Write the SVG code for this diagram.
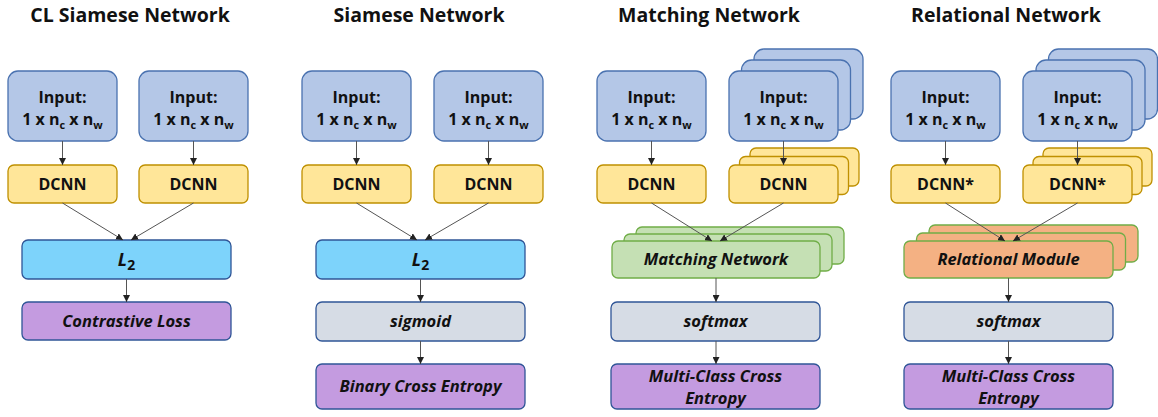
<svg xmlns="http://www.w3.org/2000/svg" width="1158" height="417" viewBox="0 0 1158 417">
<style>
text{font-family:"Open Sans","DejaVu Sans",sans-serif;font-weight:bold;fill:#111;text-anchor:middle}
.title{font-size:19.5px}
.in{fill:#b4c7e7;stroke:#4a72b0;stroke-width:1.3}
.cn{fill:#ffe699;stroke:#bf9000;stroke-width:1.3}
.l2{fill:#7dd3fb;stroke:#2f5597;stroke-width:1.3}
.pu{fill:#c49be0;stroke:#2f5597;stroke-width:1.3}
.gr{fill:#d6dce5;stroke:#2f5597;stroke-width:1.3}
.mn{fill:#c5e0b4;stroke:#70ad47;stroke-width:1.3}
.rm{fill:#f4b183;stroke:#70ad47;stroke-width:1.3}
.t16{font-size:16px}
.it{font-size:16.5px;font-style:italic}
.sub{font-size:11px}
.c{fill:none;stroke:#555;stroke-width:1;marker-end:url(#ah)}
</style>
<defs>
<marker id="ah" viewBox="0 0 10 10" refX="10" refY="5" markerWidth="7" markerHeight="7" markerUnits="userSpaceOnUse" orient="auto">
<path d="M0,0 L10,5 L0,10 z" fill="#222"/>
</marker>
</defs>

<g id="titles">
<text class="title" x="130" y="22">CL Siamese Network</text>
<text class="title" x="419" y="22">Siamese Network</text>
<text class="title" x="709" y="22">Matching Network</text>
<text class="title" x="1006" y="22">Relational Network</text>
</g>

<!-- Column 1 -->
<g id="c1-input1"><rect class="in" x="8" y="71" width="109" height="70" rx="10"/>
<text class="t16" x="62.5" y="103">Input:</text>
<text class="t16" x="62.5" y="125">1 x n<tspan class="sub" dy="4">c</tspan><tspan dy="-4"> x n</tspan><tspan class="sub" dy="4">w</tspan></text></g>
<g id="c1-input2"><rect class="in" x="139" y="71" width="109" height="70" rx="10"/>
<text class="t16" x="193.5" y="103">Input:</text>
<text class="t16" x="193.5" y="125">1 x n<tspan class="sub" dy="4">c</tspan><tspan dy="-4"> x n</tspan><tspan class="sub" dy="4">w</tspan></text></g>
<g id="c1-dcnn1"><rect class="cn" x="8" y="165" width="109" height="38" rx="6"/><text class="t16" x="62.5" y="190">DCNN</text></g>
<g id="c1-dcnn2"><rect class="cn" x="139" y="165" width="109" height="38" rx="6"/><text class="t16" x="193.5" y="190">DCNN</text></g>
<g id="c1-l2"><rect class="l2" x="22" y="240" width="209" height="39" rx="6"/><text class="it" style="font-size:18px" x="126.5" y="266">L<tspan style="font-style:normal;font-size:14px" dy="4">2</tspan></text></g>
<g id="c1-loss"><rect class="pu" x="22" y="302" width="209" height="38" rx="6"/><text class="it" x="126.5" y="327">Contrastive Loss</text></g>

<!-- Column 2 -->
<g id="c2-input1"><rect class="in" x="302" y="71" width="109" height="70" rx="10"/>
<text class="t16" x="356.5" y="103">Input:</text>
<text class="t16" x="356.5" y="125">1 x n<tspan class="sub" dy="4">c</tspan><tspan dy="-4"> x n</tspan><tspan class="sub" dy="4">w</tspan></text></g>
<g id="c2-input2"><rect class="in" x="434" y="71" width="109" height="70" rx="10"/>
<text class="t16" x="488.5" y="103">Input:</text>
<text class="t16" x="488.5" y="125">1 x n<tspan class="sub" dy="4">c</tspan><tspan dy="-4"> x n</tspan><tspan class="sub" dy="4">w</tspan></text></g>
<g id="c2-dcnn1"><rect class="cn" x="302" y="165" width="109" height="38" rx="6"/><text class="t16" x="356.5" y="190">DCNN</text></g>
<g id="c2-dcnn2"><rect class="cn" x="434" y="165" width="109" height="38" rx="6"/><text class="t16" x="488.5" y="190">DCNN</text></g>
<g id="c2-l2"><rect class="l2" x="316" y="240" width="209" height="39" rx="6"/><text class="it" style="font-size:18px" x="420.5" y="266">L<tspan style="font-style:normal;font-size:14px" dy="4">2</tspan></text></g>
<g id="c2-sigmoid"><rect class="gr" x="316" y="302" width="209" height="39" rx="6"/><text class="it" x="420.5" y="327">sigmoid</text></g>
<g id="c2-loss"><rect class="pu" x="316" y="364" width="209" height="45" rx="6"/><text class="it" x="420.5" y="392">Binary Cross Entropy</text></g>

<!-- Column 3 -->
<g id="c3-input1"><rect class="in" x="597" y="71" width="109" height="70" rx="10"/>
<text class="t16" x="651.5" y="103">Input:</text>
<text class="t16" x="651.5" y="125">1 x n<tspan class="sub" dy="4">c</tspan><tspan dy="-4"> x n</tspan><tspan class="sub" dy="4">w</tspan></text></g>
<g id="c3-input2">
<rect class="in" x="754" y="49" width="109" height="70" rx="10"/>
<rect class="in" x="741.5" y="60" width="109" height="70" rx="10"/>
<rect class="in" x="729" y="71" width="109" height="70" rx="10"/>
<text class="t16" x="783.5" y="103">Input:</text>
<text class="t16" x="783.5" y="125">1 x n<tspan class="sub" dy="4">c</tspan><tspan dy="-4"> x n</tspan><tspan class="sub" dy="4">w</tspan></text></g>
<g id="c3-dcnn1"><rect class="cn" x="597" y="165" width="109" height="38" rx="6"/><text class="t16" x="651.5" y="190">DCNN</text></g>
<g id="c3-dcnn2">
<rect class="cn" x="750" y="148" width="109" height="38" rx="6"/>
<rect class="cn" x="739.5" y="156.5" width="109" height="38" rx="6"/>
<rect class="cn" x="729" y="165" width="109" height="38" rx="6"/>
<text class="t16" x="783.5" y="190">DCNN</text></g>
<g id="c3-matching">
<rect class="mn" x="636" y="227" width="208" height="37" rx="6"/>
<rect class="mn" x="624" y="234" width="208" height="37" rx="6"/>
<rect class="mn" x="612" y="241" width="208" height="37" rx="6"/>
<text class="it" x="716" y="265">Matching Network</text></g>
<g id="c3-softmax"><rect class="gr" x="611" y="302" width="209" height="39" rx="6"/><text class="it" x="715.5" y="327">softmax</text></g>
<g id="c3-loss"><rect class="pu" x="611" y="364" width="209" height="45" rx="6"/>
<text class="it" x="715.5" y="382">Multi-Class Cross</text><text class="it" x="715.5" y="404">Entropy</text></g>

<!-- Column 4 -->
<g id="c4-input1"><rect class="in" x="891" y="71" width="109" height="70" rx="10"/>
<text class="t16" x="945.5" y="103">Input:</text>
<text class="t16" x="945.5" y="125">1 x n<tspan class="sub" dy="4">c</tspan><tspan dy="-4"> x n</tspan><tspan class="sub" dy="4">w</tspan></text></g>
<g id="c4-input2">
<rect class="in" x="1048.5" y="49" width="109" height="70" rx="10"/>
<rect class="in" x="1036" y="60" width="109" height="70" rx="10"/>
<rect class="in" x="1023" y="71" width="109" height="70" rx="10"/>
<text class="t16" x="1077.5" y="103">Input:</text>
<text class="t16" x="1077.5" y="125">1 x n<tspan class="sub" dy="4">c</tspan><tspan dy="-4"> x n</tspan><tspan class="sub" dy="4">w</tspan></text></g>
<g id="c4-dcnn1"><rect class="cn" x="891" y="165" width="109" height="38" rx="6"/><text class="t16" x="945.5" y="190">DCNN*</text></g>
<g id="c4-dcnn2">
<rect class="cn" x="1043" y="148" width="109" height="38" rx="6"/>
<rect class="cn" x="1033" y="156.5" width="109" height="38" rx="6"/>
<rect class="cn" x="1023" y="165" width="109" height="38" rx="6"/>
<text class="t16" x="1077.5" y="190">DCNN*</text></g>
<g id="c4-relational">
<rect class="rm" x="929" y="225" width="209" height="37" rx="6"/>
<rect class="rm" x="916.5" y="233" width="209" height="37" rx="6"/>
<rect class="rm" x="904" y="241" width="209" height="37" rx="6"/>
<text class="it" x="1008.5" y="265">Relational Module</text></g>
<g id="c4-softmax"><rect class="gr" x="904" y="302" width="209" height="39" rx="6"/><text class="it" x="1008.5" y="327">softmax</text></g>
<g id="c4-loss"><rect class="pu" x="904" y="364" width="209" height="45" rx="6"/>
<text class="it" x="1008.5" y="382">Multi-Class Cross</text><text class="it" x="1008.5" y="404">Entropy</text></g>

<g id="connectors">
<line class="c" x1="62.5" y1="141" x2="62.5" y2="165"/>
<line class="c" x1="193.5" y1="141" x2="193.5" y2="165"/>
<line class="c" x1="62.5" y1="203" x2="123" y2="240"/>
<line class="c" x1="193.5" y1="203" x2="131" y2="240"/>
<line class="c" x1="126.5" y1="279" x2="126.5" y2="302"/>

<line class="c" x1="356.5" y1="141" x2="356.5" y2="165"/>
<line class="c" x1="488.5" y1="141" x2="488.5" y2="165"/>
<line class="c" x1="356.5" y1="203" x2="417" y2="240"/>
<line class="c" x1="488.5" y1="203" x2="425" y2="240"/>
<line class="c" x1="420.5" y1="279" x2="420.5" y2="302"/>
<line class="c" x1="420.5" y1="341" x2="420.5" y2="364"/>

<line class="c" x1="651.5" y1="141" x2="651.5" y2="165"/>
<line class="c" x1="783.5" y1="141" x2="783.5" y2="165"/>
<line class="c" x1="651.5" y1="203" x2="712" y2="241"/>
<line class="c" x1="783.5" y1="203" x2="720" y2="241"/>
<line class="c" x1="716" y1="278" x2="716" y2="302"/>
<line class="c" x1="716" y1="341" x2="716" y2="364"/>

<line class="c" x1="945.5" y1="141" x2="945.5" y2="165"/>
<line class="c" x1="1077.5" y1="141" x2="1077.5" y2="165"/>
<line class="c" x1="945.5" y1="203" x2="1005" y2="241"/>
<line class="c" x1="1077.5" y1="203" x2="1013" y2="241"/>
<line class="c" x1="1008.5" y1="278" x2="1008.5" y2="302"/>
<line class="c" x1="1008.5" y1="341" x2="1008.5" y2="364"/>
</g>
</svg>
